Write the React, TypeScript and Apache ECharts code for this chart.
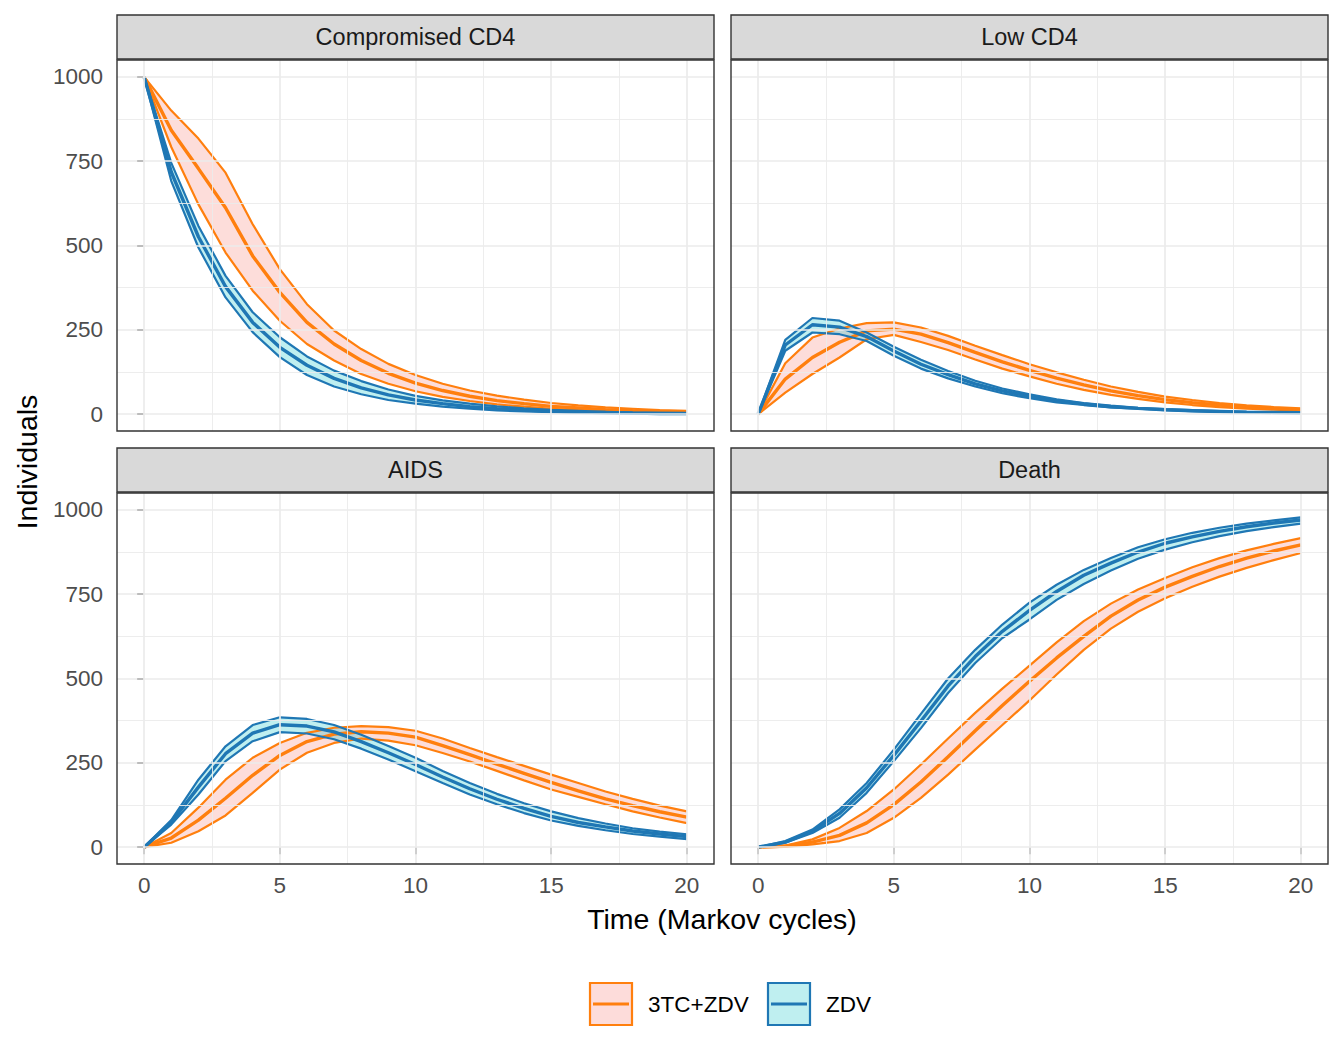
import React, { useEffect, useRef } from "react";
import * as echarts from "echarts";

// ---------- data ----------
const panelTitles = ["Compromised CD4", "Low CD4", "AIDS", "Death"];
const groupNames = ["3TC+ZDV", "ZDV"];
const cycles = [0, 1, 2, 3, 4, 5, 6, 7, 8, 9, 10, 11, 12, 13, 14, 15, 16, 17, 18, 19, 20];
const xTicks = [0, 5, 10, 15, 20];
const xMinor = [2.5, 7.5, 12.5, 17.5];
const yTicks = [0, 250, 500, 750, 1000];
const yMinor = [125, 375, 625, 875];

const cd4_3tc_up = [1000, 900, 817, 716, 563, 430, 326, 248, 193, 149, 116, 90, 70, 55, 43, 33, 26, 20, 16, 12, 10];
const cd4_3tc_mean = [1000, 842, 728, 612, 469, 361, 272, 208, 159, 121, 92, 70, 53, 40, 31, 23, 18, 13, 10, 8, 6];
const cd4_3tc_lo = [1000, 792, 622, 479, 366, 277, 208, 159, 119, 90, 68, 51, 39, 29, 22, 16, 12, 9, 7, 5, 4];
const cd4_zdv_up = [1000, 745, 558, 410, 302, 228, 171, 129, 98, 73, 54, 41, 31, 23, 17, 13, 10, 7, 5, 4, 3];
const cd4_zdv_mean = [1000, 718, 526, 378, 272, 198, 145, 106, 78, 57, 42, 31, 22, 16, 12, 9, 6, 5, 3, 2, 2];
const cd4_zdv_lo = [1000, 691, 494, 346, 243, 169, 116, 82, 59, 42, 31, 22, 16, 11, 8, 6, 4, 3, 2, 1, 1];

const low_3tc_up = [0, 151, 227, 254, 270, 272, 257, 232, 203, 175, 148, 124, 102, 82, 66, 52, 42, 33, 26, 21, 17];
const low_3tc_mean = [0, 104, 168, 213, 247, 252, 237, 212, 183, 155, 130, 107, 87, 69, 55, 43, 34, 27, 21, 17, 13];
const low_3tc_lo = [0, 64, 119, 168, 222, 235, 214, 190, 162, 135, 112, 90, 72, 57, 45, 35, 27, 21, 16, 13, 10];
const low_zdv_up = [0, 220, 285, 277, 242, 200, 161, 128, 99, 76, 59, 44, 33, 25, 19, 15, 12, 9, 7, 6, 5];
const low_zdv_mean = [0, 205, 265, 258, 230, 187, 148, 117, 90, 69, 53, 40, 30, 22, 17, 13, 10, 8, 6, 5, 4];
const low_zdv_lo = [0, 188, 242, 237, 217, 173, 135, 106, 82, 62, 47, 35, 27, 20, 16, 12, 9, 7, 5, 4, 3];

const aids_3tc_up = [0, 42, 117, 200, 265, 309, 339, 354, 359, 356, 345, 322, 294, 267, 241, 215, 190, 165, 143, 123, 106];
const aids_3tc_mean = [0, 27, 80, 145, 213, 272, 313, 335, 342, 338, 326, 301, 274, 246, 219, 192, 167, 143, 123, 105, 89];
const aids_3tc_lo = [0, 13, 47, 94, 161, 230, 280, 309, 322, 316, 302, 279, 254, 226, 198, 171, 149, 127, 106, 88, 71];
const aids_zdv_up = [0, 80, 200, 299, 362, 385, 380, 362, 333, 300, 265, 226, 190, 158, 130, 106, 86, 70, 56, 46, 38];
const aids_zdv_mean = [0, 74, 178, 277, 338, 363, 359, 342, 313, 280, 245, 208, 173, 142, 115, 91, 73, 60, 48, 39, 31];
const aids_zdv_lo = [0, 67, 156, 255, 314, 341, 337, 320, 292, 260, 225, 190, 156, 127, 101, 79, 63, 50, 39, 31, 24];

const death_3tc_up = [0, 5, 23, 57, 107, 171, 245, 322, 398, 470, 538, 607, 670, 722, 764, 798, 830, 857, 880, 899, 916];
const death_3tc_mean = [0, 3, 15, 35, 72, 126, 193, 268, 345, 420, 492, 561, 625, 685, 733, 771, 803, 832, 857, 878, 896];
const death_3tc_lo = [0, 1, 8, 18, 42, 87, 146, 215, 289, 362, 435, 512, 585, 648, 698, 738, 772, 802, 828, 851, 872];
const death_zdv_up = [0, 18, 52, 112, 190, 289, 395, 500, 585, 660, 725, 778, 822, 857, 889, 913, 932, 947, 959, 969, 978];
const death_zdv_mean = [0, 15, 47, 100, 176, 272, 374, 478, 565, 640, 702, 758, 806, 842, 875, 901, 920, 936, 950, 961, 970];
const death_zdv_lo = [0, 13, 42, 87, 161, 255, 353, 457, 546, 620, 675, 733, 780, 820, 855, 882, 904, 922, 937, 949, 959];

// [panel][group] -> [lo, mean, up]
const panelData = [
  [[cd4_3tc_lo, cd4_3tc_mean, cd4_3tc_up], [cd4_zdv_lo, cd4_zdv_mean, cd4_zdv_up]],
  [[low_3tc_lo, low_3tc_mean, low_3tc_up], [low_zdv_lo, low_zdv_mean, low_zdv_up]],
  [[aids_3tc_lo, aids_3tc_mean, aids_3tc_up], [aids_zdv_lo, aids_zdv_mean, aids_zdv_up]],
  [[death_3tc_lo, death_3tc_mean, death_3tc_up], [death_zdv_lo, death_zdv_mean, death_zdv_up]],
];

// ---------- styling / layout ----------
const FONT = "'Liberation Sans', Arial, Helvetica, sans-serif";
const lineColors = ["#ff7f0e", "#1f77b4"];
const fillColors = ["rgba(248,118,109,0.25)", "rgba(0,191,196,0.25)"];
const keyFills = ["#fddcda", "#bfeff0"];
const PW = 597;
const PH = 371;
const panelPos = [
  { left: 117, top: 60 },
  { left: 731, top: 60 },
  { left: 117, top: 493 },
  { left: 731, top: 493 },
];
const STRIP_H = 44;

function buildOption() {
  const grids: any[] = [];
  const xAxes: any[] = [];
  const yAxes: any[] = [];
  const series: any[] = [];
  const graphics: any[] = [];

  panelPos.forEach((p, i) => {
    const bottomRow = i >= 2;
    const leftCol = i % 2 === 0;
    grids.push({ left: p.left, top: p.top, width: PW, height: PH, show: false, containLabel: false });
    xAxes.push({
      gridIndex: i,
      type: "value",
      min: -1,
      max: 21,
      axisLine: { show: false },
      splitLine: { show: false },
      axisTick: {
        show: bottomRow,
        customValues: xTicks,
        length: 7,
        lineStyle: { color: "#333333", width: 2 },
      },
      axisLabel: {
        show: bottomRow,
        customValues: xTicks,
        margin: 10,
        fontSize: 22.5,
        color: "#4d4d4d",
        fontFamily: FONT,
        formatter: (v: number) => String(v),
      },
    });
    yAxes.push({
      gridIndex: i,
      type: "value",
      min: -50,
      max: 1050,
      axisLine: { show: false },
      splitLine: { show: false },
      axisTick: {
        show: leftCol,
        customValues: yTicks,
        length: 7,
        lineStyle: { color: "#333333", width: 2 },
      },
      axisLabel: {
        show: leftCol,
        customValues: yTicks,
        margin: 14,
        fontSize: 22.5,
        color: "#4d4d4d",
        fontFamily: FONT,
        formatter: (v: number) => String(v),
      },
    });

    // gridlines via markLine
    const major = { color: "#ebebeb", width: 1.7, type: "solid" };
    const minor = { color: "#ebebeb", width: 0.9, type: "solid" };
    series.push({
      type: "line",
      xAxisIndex: i,
      yAxisIndex: i,
      z: 1,
      silent: true,
      showSymbol: false,
      symbol: "none",
      lineStyle: { opacity: 0 },
      data: [[cycles[0], yTicks[0]]],
      markLine: {
        silent: true,
        symbol: ["none", "none"],
        label: { show: false },
        emphasis: { disabled: true },
        data: [
          ...xMinor.map((v) => ({ xAxis: v, lineStyle: minor })),
          ...yMinor.map((v) => ({ yAxis: v, lineStyle: minor })),
          ...xTicks.map((v) => ({ xAxis: v, lineStyle: major })),
          ...yTicks.map((v) => ({ yAxis: v, lineStyle: major })),
        ],
      },
    });

    // ribbons (polygon between lower and upper, via the grid's coordinate system)
    panelData[i].forEach((grp, g) => {
      const [lo, , up] = grp;
      series.push({
        type: "custom",
        xAxisIndex: i,
        yAxisIndex: i,
        silent: true,
        z: 2,
        data: [[cycles[0], lo[0]]],
        renderItem: (_params: any, api: any) => {
          const pts: number[][] = [];
          cycles.forEach((c, k) => pts.push(api.coord([c, up[k]])));
          for (let k = cycles.length - 1; k >= 0; k--) pts.push(api.coord([cycles[k], lo[k]]));
          return {
            type: "polygon",
            shape: { points: pts },
            style: { fill: fillColors[g], stroke: "none" },
          };
        },
      });
    });

    // lines
    panelData[i].forEach((grp, g) => {
      grp.forEach((arr, j) => {
        series.push({
          type: "line",
          name: groupNames[g],
          xAxisIndex: i,
          yAxisIndex: i,
          symbol: "none",
          silent: true,
          z: 3,
          lineStyle: { color: lineColors[g], width: j === 1 ? 3.4 : 2.2 },
          data: cycles.map((c, k) => [c, arr[k]]),
        });
      });
    });

    // panel border
    graphics.push({
      type: "rect",
      z: 50,
      silent: true,
      shape: { x: p.left, y: p.top, width: PW, height: PH },
      style: { fill: "none", stroke: "#333333", lineWidth: 1.4 },
    });
    // strip
    graphics.push({
      type: "rect",
      z: 50,
      silent: true,
      shape: { x: p.left, y: p.top - STRIP_H - 1, width: PW, height: STRIP_H },
      style: { fill: "#d9d9d9", stroke: "#333333", lineWidth: 1.4 },
    });
    graphics.push({
      type: "text",
      z: 51,
      silent: true,
      x: p.left + PW / 2,
      y: p.top - STRIP_H / 2 - 1,
      style: {
        text: panelTitles[i],
        fill: "#1a1a1a",
        font: `23.5px ${FONT}`,
        align: "center",
        verticalAlign: "middle",
      },
    });
  });

  // axis titles
  graphics.push({
    type: "text",
    silent: true,
    x: 722,
    y: 919,
    style: {
      text: "Time (Markov cycles)",
      fill: "#000000",
      font: `28.5px ${FONT}`,
      align: "center",
      verticalAlign: "middle",
    },
  });
  graphics.push({
    type: "text",
    silent: true,
    x: 27,
    y: 462,
    rotation: Math.PI / 2,
    style: {
      text: "Individuals",
      fill: "#000000",
      font: `28.5px ${FONT}`,
      align: "center",
      verticalAlign: "middle",
    },
  });

  // legend
  const keyX = [590, 768];
  const textX = [648, 826];
  groupNames.forEach((name, g) => {
    graphics.push({
      type: "rect",
      silent: true,
      shape: { x: keyX[g], y: 983, width: 42, height: 42 },
      style: { fill: keyFills[g], stroke: lineColors[g], lineWidth: 2.2 },
    });
    graphics.push({
      type: "line",
      silent: true,
      shape: { x1: keyX[g] + 3, y1: 1004, x2: keyX[g] + 39, y2: 1004 },
      style: { stroke: lineColors[g], lineWidth: 3.2 },
    });
    graphics.push({
      type: "text",
      silent: true,
      x: textX[g],
      y: 1004,
      style: {
        text: name,
        fill: "#000000",
        font: `22.5px ${FONT}`,
        align: "left",
        verticalAlign: "middle",
      },
    });
  });

  return {
    animation: false,
    backgroundColor: "#ffffff",
    grid: grids,
    xAxis: xAxes,
    yAxis: yAxes,
    series,
    graphic: { elements: graphics },
  };
}

export default function App() {
  const ref = useRef<HTMLDivElement>(null);
  useEffect(() => {
    if (!ref.current) return;
    const chart = echarts.init(ref.current, undefined, { renderer: "svg" });
    chart.setOption(buildOption() as any);
    return () => chart.dispose();
  }, []);
  return (
    <div
      ref={ref}
      style={{ position: "absolute", left: 0, top: 0, width: 1344, height: 1056 }}
    />
  );
}
